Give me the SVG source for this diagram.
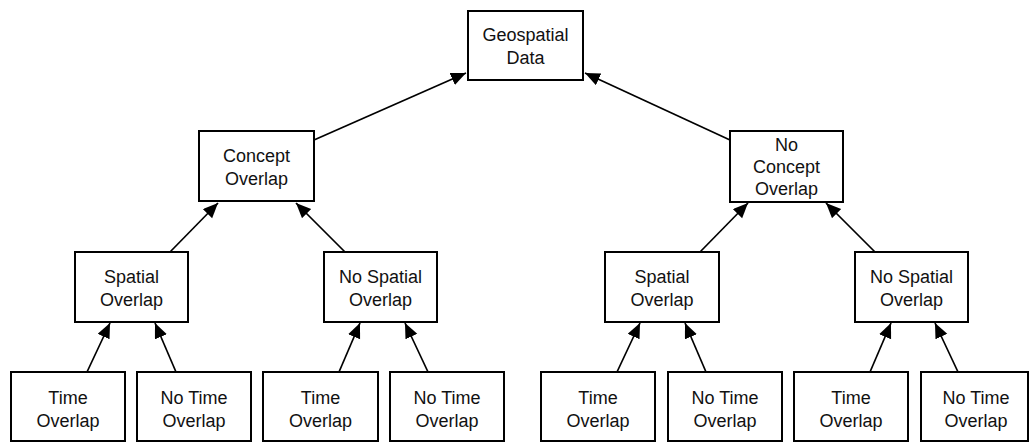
<svg xmlns="http://www.w3.org/2000/svg" width="1030" height="443" viewBox="0 0 1030 443">
  <style>
    .box { fill: #ffffff; stroke: #000000; stroke-width: 2; }
    .lbl { font-family: "Liberation Sans", Arial, Helvetica, sans-serif; font-size: 18px; fill: #111111; text-anchor: middle; }
    .edge { fill: none; stroke: #000000; stroke-width: 1.7; marker-end: url(#arrow); }
  </style>
  <defs>
    <marker id="arrow" markerUnits="userSpaceOnUse" markerWidth="16" markerHeight="14" refX="15" refY="6.5" orient="auto">
      <path d="M0,0 L15,6.5 L0,13 Z" fill="#000000"/>
    </marker>
  </defs>
  <rect width="1030" height="443" fill="#ffffff"/>

  <!-- connectors: each child points up to its parent -->
  <g id="connectors">
    <path class="edge" d="M314,140 L466,73"/>
    <path class="edge" d="M730,140 L585,73"/>
    <path class="edge" d="M170,252 L218,203"/>
    <path class="edge" d="M345,252 L296,203"/>
    <path class="edge" d="M700,252 L748,203"/>
    <path class="edge" d="M875,252 L826,203"/>
    <path class="edge" d="M87,372 L110,323"/>
    <path class="edge" d="M176,372 L155,323"/>
    <path class="edge" d="M339,372 L360,323"/>
    <path class="edge" d="M428,372 L405,323"/>
    <path class="edge" d="M617,372 L640,323"/>
    <path class="edge" d="M706,372 L685,323"/>
    <path class="edge" d="M870,372 L891,323"/>
    <path class="edge" d="M958,372 L935,323"/>
  </g>

  <!-- root -->
  <g id="geospatial-data">
    <rect class="box" x="468" y="11" width="115" height="69"/>
    <text class="lbl" x="525.5" y="41">Geospatial</text>
    <text class="lbl" x="525.5" y="64">Data</text>
  </g>

  <!-- concept level -->
  <g id="concept-overlap">
    <rect class="box" x="199" y="131" width="115" height="70"/>
    <text class="lbl" x="256.5" y="161.5">Concept</text>
    <text class="lbl" x="256.5" y="184.5">Overlap</text>
  </g>
  <g id="no-concept-overlap">
    <rect class="box" x="730" y="131" width="113" height="71"/>
    <text class="lbl" x="786.5" y="151">No</text>
    <text class="lbl" x="786.5" y="173">Concept</text>
    <text class="lbl" x="786.5" y="195">Overlap</text>
  </g>

  <!-- spatial level -->
  <g id="spatial-overlap-1">
    <rect class="box" x="75" y="252" width="113" height="70"/>
    <text class="lbl" x="131.5" y="282.5">Spatial</text>
    <text class="lbl" x="131.5" y="305.5">Overlap</text>
  </g>
  <g id="no-spatial-overlap-1">
    <rect class="box" x="324" y="252" width="113" height="70"/>
    <text class="lbl" x="380.5" y="282.5">No Spatial</text>
    <text class="lbl" x="380.5" y="305.5">Overlap</text>
  </g>
  <g id="spatial-overlap-2">
    <rect class="box" x="605" y="252" width="114" height="70"/>
    <text class="lbl" x="662" y="282.5">Spatial</text>
    <text class="lbl" x="662" y="305.5">Overlap</text>
  </g>
  <g id="no-spatial-overlap-2">
    <rect class="box" x="855" y="252" width="113" height="70"/>
    <text class="lbl" x="911.5" y="282.5">No Spatial</text>
    <text class="lbl" x="911.5" y="305.5">Overlap</text>
  </g>

  <!-- time level -->
  <g id="time-overlap-1">
    <rect class="box" x="11" y="372" width="114" height="69"/>
    <text class="lbl" x="68" y="404">Time</text>
    <text class="lbl" x="68" y="427">Overlap</text>
  </g>
  <g id="no-time-overlap-1">
    <rect class="box" x="137" y="372" width="114" height="69"/>
    <text class="lbl" x="194" y="404">No Time</text>
    <text class="lbl" x="194" y="427">Overlap</text>
  </g>
  <g id="time-overlap-2">
    <rect class="box" x="263" y="372" width="115" height="69"/>
    <text class="lbl" x="320.5" y="404">Time</text>
    <text class="lbl" x="320.5" y="427">Overlap</text>
  </g>
  <g id="no-time-overlap-2">
    <rect class="box" x="390" y="372" width="114" height="69"/>
    <text class="lbl" x="447" y="404">No Time</text>
    <text class="lbl" x="447" y="427">Overlap</text>
  </g>
  <g id="time-overlap-3">
    <rect class="box" x="541" y="372" width="114" height="69"/>
    <text class="lbl" x="598" y="404">Time</text>
    <text class="lbl" x="598" y="427">Overlap</text>
  </g>
  <g id="no-time-overlap-3">
    <rect class="box" x="668" y="372" width="114" height="69"/>
    <text class="lbl" x="725" y="404">No Time</text>
    <text class="lbl" x="725" y="427">Overlap</text>
  </g>
  <g id="time-overlap-4">
    <rect class="box" x="794" y="372" width="114" height="69"/>
    <text class="lbl" x="851" y="404">Time</text>
    <text class="lbl" x="851" y="427">Overlap</text>
  </g>
  <g id="no-time-overlap-4">
    <rect class="box" x="921" y="372" width="107" height="69"/>
    <text class="lbl" x="976" y="404">No Time</text>
    <text class="lbl" x="976" y="427">Overlap</text>
  </g>
</svg>
